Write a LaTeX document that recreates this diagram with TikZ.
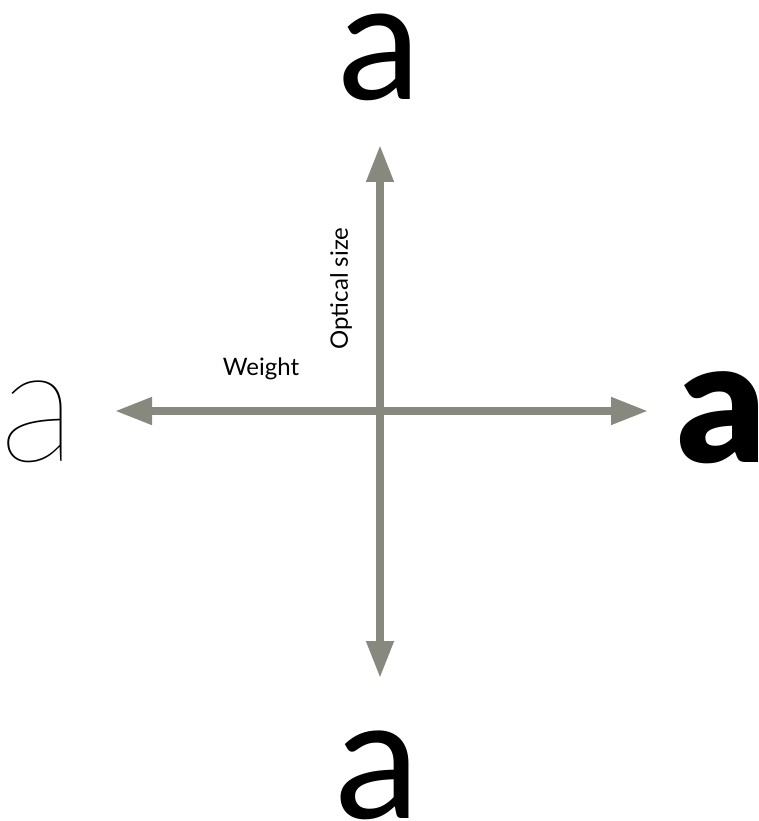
\documentclass[tikz,border=0pt]{standalone}
\usepackage{fontspec}
\setmainfont{Lato}
\IfFontExistsTF{Lato Hairline}{\newfontfamily\thinfont{Lato Hairline}}{\newfontfamily\thinfont{Lato Light}}
\IfFontExistsTF{Lato Black}{\newfontfamily\blackfont{Lato Black}}{\newfontfamily\blackfont[FakeBold=4]{Lato}}
\usetikzlibrary{arrows.meta,positioning}
\definecolor{axisgray}{RGB}{135,137,127}

\begin{document}
\begin{tikzpicture}[
    x=1pt, y=-1pt,
    axis/.style={draw=axisgray, line width=7.5pt, {Triangle[length=37pt,width=26pt]}-{Triangle[length=37pt,width=26pt]}},
    glyph/.style={inner sep=0pt, anchor=base, text=black},
    axislabel/.style={inner sep=0pt, font=\fontsize{24}{28}\selectfont}
]

\useasboundingbox (0,0) rectangle (759,821);

% Axes
\coordinate (west) at (115,411);
\coordinate (east) at (648,411);
\coordinate (north) at (380,145);
\coordinate (south) at (380,678);
\draw [axis] (west) -- (east);
\draw [axis] (north) -- (south);

% Axis labels
\node at (261,369) [axislabel] (weight) {Weight};
\node at (341,288.5) [axislabel, rotate=90] (optsize) {Optical size};

% Letters
\node at (380,100) [glyph, font=\fontsize{166}{166}\selectfont] (large) {a};
\node at (378,818) [glyph, font=\fontsize{170}{170}\selectfont] (small) {a};
\node at (38,461) [glyph, font=\thinfont\fontsize{162}{162}\selectfont] (light) {a};
\node at (722,462) [glyph, font=\blackfont\fontsize{172}{172}\selectfont] (heavy) {a};

\end{tikzpicture}
\end{document}
